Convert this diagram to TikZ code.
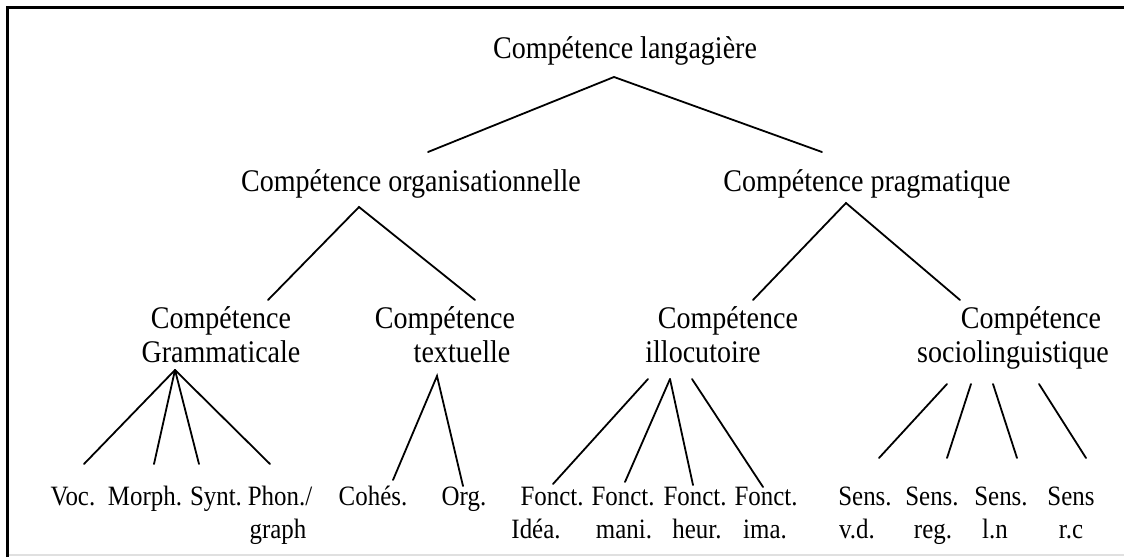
\documentclass[tikz,border=0pt]{standalone}
\usepackage{fontspec}
\setmainfont{Liberation Serif}[FakeStretch=0.89]
\begin{document}
\begin{tikzpicture}[x=1pt,y=-1pt,
  big/.style={font=\fontsize{31.5}{36}\selectfont, inner sep=0pt, anchor=base},
  small/.style={font=\fontsize{28}{33}\selectfont, inner sep=0pt, anchor=base},
  link/.style={line width=1.8pt, line cap=round}]
\useasboundingbox (0,0) rectangle (1124,557);
\fill[white] (0,0) rectangle (1124,557);
% frame
\draw[line width=3pt] (7,557) -- (7,7) -- (1124,7);
\draw[line width=1.5pt, black!12] (9,555) -- (1124,555);

% level 0 and 1
\node[big] (root) at (625,58) {Compétence langagière};
\node[big] (org)  at (411,191) {Compétence organisationnelle};
\node[big] (prag) at (867,191) {Compétence pragmatique};

% level 2
\node[big] (gramA) at (221,328) {Compétence};
\node[big] (gramB) at (221,362) {Grammaticale};
\node[big] (textA) at (445,328) {Compétence};
\node[big] (textB) at (462,362) {textuelle};
\node[big] (illoA) at (728,328) {Compétence};
\node[big] (illoB) at (703,362) {illocutoire};
\node[big] (socA)  at (1031,328) {Compétence};
\node[big] (socB)  at (1013,362) {sociolinguistique};

% level 3
\node[small] (voc)   at (73,505)  {Voc.};
\node[small] (morph) at (145,505) {Morph.};
\node[small] (synt)  at (216,505) {Synt.};
\node[small] (phon)  at (280,505) {Phon./};
\node[small] (graph) at (278,538) {graph};
\node[small] (cohes) at (373,505) {Cohés.};
\node[small] (orgt)  at (464,505) {Org.};
\node[small] (fA) at (552,505) {Fonct.};
\node[small] (fAb) at (536,538) {Idéa.};
\node[small] (fB) at (623,505) {Fonct.};
\node[small] (fBb) at (624,538) {mani.};
\node[small] (fC) at (695,505) {Fonct.};
\node[small] (fCb) at (697,538) {heur.};
\node[small] (fD) at (766,505) {Fonct.};
\node[small] (fDb) at (765,538) {ima.};
\node[small] (sA) at (865,505) {Sens.};
\node[small] (sAb) at (857,538) {v.d.};
\node[small] (sB) at (932,505) {Sens.};
\node[small] (sBb) at (933,538) {reg.};
\node[small] (sC) at (1001,505) {Sens.};
\node[small] (sCb) at (995,538) {l.n};
\node[small] (sD) at (1071,505) {Sens};
\node[small] (sDb) at (1071,538) {r.c};

% junction points
\coordinate (rootJ) at (614,77);
\coordinate (orgT)  at (428,152);
\coordinate (pragT) at (822,152);
\coordinate (orgJ)  at (359,207);
\coordinate (gramT) at (268,300);
\coordinate (textT) at (475,300);
\coordinate (pragJ) at (846,203);
\coordinate (illoT) at (753,300);
\coordinate (socT)  at (960,300);
\coordinate (gramJ) at (175,370);
\coordinate (vocT)   at (84,464);
\coordinate (morphT) at (154,464);
\coordinate (syntT)  at (199,464);
\coordinate (phonT)  at (270,464);
\coordinate (textJ)  at (437,376);
\coordinate (cohesT) at (393,480);
\coordinate (orgtT)  at (463,486);
\coordinate (illoJa) at (648,379);
\coordinate (illoJb) at (670,379);
\coordinate (illoJc) at (692,379);
\coordinate (fAT) at (553,484);
\coordinate (fBT) at (625,482);
\coordinate (fCT) at (693,485);
\coordinate (fDT) at (763,487);
\coordinate (socJa) at (947,384);
\coordinate (socJb) at (971,384);
\coordinate (socJc) at (993,384);
\coordinate (socJd) at (1039,384);
\coordinate (sAT) at (879,458);
\coordinate (sBT) at (947,458);
\coordinate (sCT) at (1017,458);
\coordinate (sDT) at (1086,458);

% connectors
\draw[link] (orgT) -- (rootJ) -- (pragT);
\draw[link] (gramT) -- (orgJ) -- (textT);
\draw[link] (illoT) -- (pragJ) -- (socT);
\draw[link] (gramJ) -- (vocT);
\draw[link] (gramJ) -- (morphT);
\draw[link] (gramJ) -- (syntT);
\draw[link] (gramJ) -- (phonT);
\draw[link] (cohesT) -- (textJ) -- (orgtT);
\draw[link] (illoJa) -- (fAT);
\draw[link] (illoJb) -- (fBT);
\draw[link] (illoJb) -- (fCT);
\draw[link] (illoJc) -- (fDT);
\draw[link] (socJa) -- (sAT);
\draw[link] (socJb) -- (sBT);
\draw[link] (socJc) -- (sCT);
\draw[link] (socJd) -- (sDT);
\end{tikzpicture}
\end{document}
